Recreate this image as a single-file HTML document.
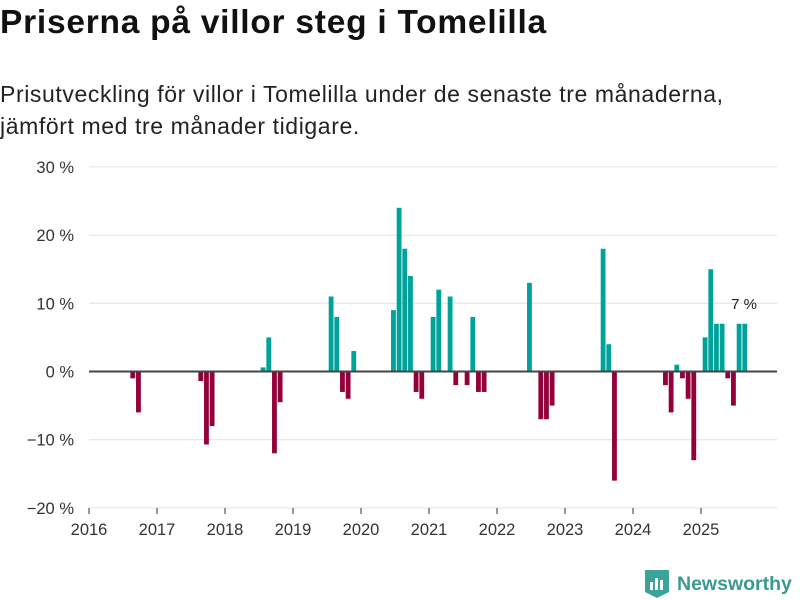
<!DOCTYPE html>
<html><head><meta charset="utf-8"><style>
body{margin:0;width:800px;height:600px;background:#fff;font-family:"Liberation Sans","DejaVu Sans",sans-serif;overflow:hidden;position:relative}
h1{position:absolute;left:0;top:4px;margin:0;font-size:33.5px;font-weight:bold;color:#111;letter-spacing:0.75px;white-space:nowrap}
.sub{position:absolute;left:0;top:78px;font-size:23px;line-height:32px;color:#222;letter-spacing:0.6px;white-space:nowrap}
svg{position:absolute;left:0;top:0}
</style></head><body>
<h1>Priserna på villor steg i Tomelilla</h1>
<div class="sub">Prisutveckling för villor i Tomelilla under de senaste tre månaderna,<br>jämfört med tre månader tidigare.</div>
<svg id="chart" width="800" height="600"></svg>
<div style="position:absolute;left:645px;top:570px;display:flex;align-items:center">
<svg width="24" height="28" style="position:static"><path d="M0 0H24V22L12 28L0 22Z" fill="#3aa39a"/><rect x="5" y="12" width="3" height="8" fill="#fff"/><rect x="10" y="8" width="3" height="12" fill="#fff"/><rect x="15" y="10" width="3" height="10" fill="#fff"/></svg>
<span style="margin-left:8px;font-size:19.5px;color:#3a9a92;font-weight:bold">Newsworthy</span></div>
<script>
const monthIdx=[7,8,19,20,21,30,31,32,33,42,43,44,45,46,53,54,55,56,57,58,60,61,63,64,66,67,68,69,77,79,80,81,90,91,92,101,102,103,104,105,106,108,109,110,111,112,113,114,115];
const values=[-1,-6,-1.4,-10.7,-8,0.6,5,-12,-4.5,11,8,-3,-4,3,9,24,18,14,-3,-4,8,12,11,-2,-2,8,-3,-3,13,-7,-7,-5,18,4,-16,-2,-6,1,-1,-4,-13,5,15,7,7,-1,-5,7,7];
const yTicks=[30,20,10,0,-10,-20];
const years=[2016,2017,2018,2019,2020,2021,2022,2023,2024,2025];
const NS="http://www.w3.org/2000/svg";
const svg=document.getElementById('chart');
const x0=89,yearW=68,mW=yearW/12;
const y=v=>371.5-v*6.82;
const xm=m=>x0+(m+0.3)*mW;
function mk(t,a){const e=document.createElementNS(NS,t);for(const k in a)e.setAttribute(k,a[k]);svg.appendChild(e);return e;}
yTicks.forEach(t=>{
 if(t!==0){const g=mk('line',{x1:89,x2:777,y1:y(t),y2:y(t),stroke:'#e0e0e0','stroke-width':1});
 
 }
 const l=mk('text',{x:74,y:y(t)+6,'text-anchor':'end','font-size':16.5,fill:'#333'});
 l.textContent=(t<0?'\u2212'+(-t):t)+' %';
 
 
});
years.forEach((yr,i)=>{
 const xx=x0+i*yearW;
 const tk=mk('line',{x1:xx,x2:xx,y1:508,y2:514,stroke:'#333','stroke-width':1});
 
 
 const l=mk('text',{x:xx,y:535,'text-anchor':'middle','font-size':16.5,fill:'#333'});
 l.textContent=yr;
 
 
});
monthIdx.forEach((m,i)=>{
 const v=values[i];
 const r=mk('rect',{x:xm(m),width:mW*0.85,y:Math.min(y(v),y(0)),height:Math.abs(y(v)-y(0)),fill:v>=0?'#00a39a':'#94003a'});
 
 
});
const z=mk('line',{x1:89,x2:777,y1:y(0),y2:y(0),stroke:'#444','stroke-width':2});


const last=values[values.length-1];
const lb=mk('text',{x:744,y:y(last)-15,'text-anchor':'middle','font-size':15,fill:'#222'});
lb.textContent=last+' %';


</script>
</body></html>
